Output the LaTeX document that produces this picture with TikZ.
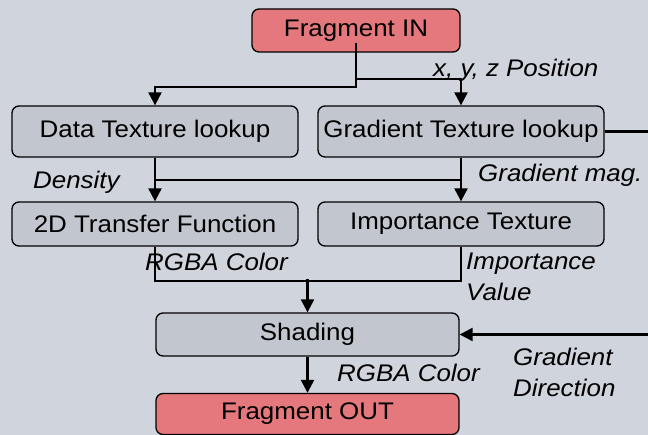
\documentclass[tikz,border=0pt]{standalone}
\usepackage{fontspec}
\setmainfont[FakeStretch=1.08]{Liberation Sans}
\usetikzlibrary{arrows.meta}
\definecolor{bgcol}{RGB}{208,212,220}
\definecolor{boxcol}{RGB}{194,198,207}
\definecolor{fragcol}{RGB}{229,120,125}
\begin{document}
\begin{tikzpicture}[x=1pt,y=1pt,
    stage/.style={draw,line width=1.3pt,rounded corners=7pt,fill=boxcol,inner sep=0pt,
        minimum width=286pt,minimum height=51pt},
    frag/.style={stage,fill=fragcol,minimum height=43pt},
    lab/.style={anchor=west,inner sep=0pt,align=left,font=\itshape},
    flow/.style={line width=2.2pt,-{Triangle[width=13pt,length=13pt]}},
    line/.style={line width=2.2pt}]
    \fontsize{24}{31}\selectfont
    \fill[bgcol] (0,0) rectangle (648,435);
    \useasboundingbox (0,0) rectangle (648,435);
    % stages
    \node[frag,minimum width=208pt] (in) at (356,404.5) {Fragment IN};
    \node[stage] (data) at (155,303.5) {Data Texture lookup};
    \node[stage] (grad) at (461,303.5) {Gradient Texture lookup};
    \node[stage,minimum height=44pt] (tf) at (155,211) {2D Transfer Function};
    \node[stage,minimum height=44pt] (imp) at (461,211) {Importance Texture};
    \node[stage,minimum width=303pt,minimum height=43pt] (shade) at (307.5,100.5) {Shading};
    \node[frag,minimum width=303pt,minimum height=41pt] (out) at (307.5,21) {Fragment OUT};
    % connectors
    \draw[flow] ([yshift=10pt]in.south) -- ++(0,-44) -| (data.north);
    \draw[flow] ([yshift=-26pt]in.south) -| (grad.north);
    \draw[flow] (data.south) -- (tf.north);
    \draw[flow] (grad.south) -- (imp.north);
    \draw[line] ([yshift=-22pt]data.south) -- ([yshift=-22pt]grad.south);
    \draw[line] (tf.south) -- ++(0,-34) -| (imp.south);
    \draw[flow] ([yshift=33pt]shade.north) -- (shade.north);
    \draw[flow] (shade.south) -- (out.north);
    \draw[flow] (grad.east) -- ++(52,0) |- (shade.east);
    % labels
    \node[lab] (pos) at (433,365) {x, y, z Position};
    \node[lab] (dens) at (33,253) {Density};
    \node[lab] (gmag) at (478,260) {Gradient mag.};
    \node[lab] (col1) at (145,173) {RGBA Color};
    \node[lab] (impv) at (466,158) {Importance\\Value};
    \node[lab] (col2) at (337,62) {RGBA Color};
    \node[lab] (gdir) at (513,62.5) {Gradient\\Direction};
\end{tikzpicture}
\end{document}
